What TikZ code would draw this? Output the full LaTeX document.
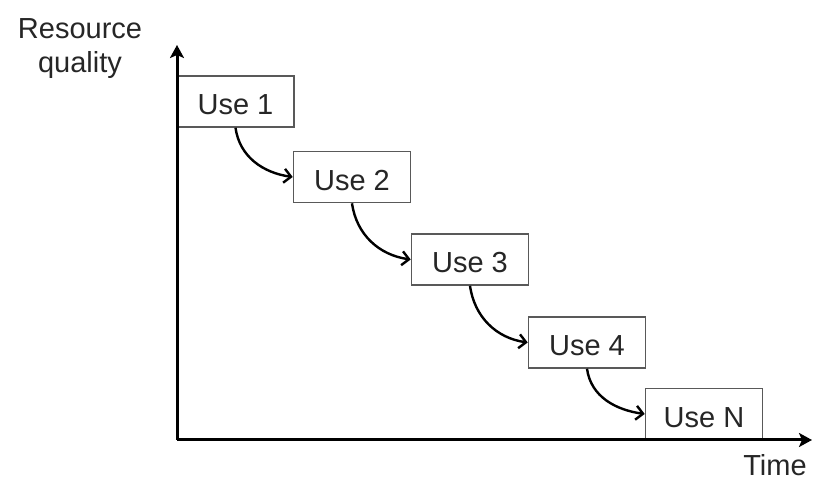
\documentclass[tikz,border=0pt]{standalone}
\usepackage{fontspec}
\setmainfont{Liberation Sans}
\usetikzlibrary{arrows.meta}
\begin{document}
\begin{tikzpicture}[x=1pt,y=1pt,
  usebox/.style={draw=black!65, line width=1.6pt, fill=white, minimum width=117pt, minimum height=51pt,
    inner sep=0pt, text height=27pt, text depth=0pt, font=\fontsize{29}{34}\selectfont, text=black!85},
  axis/.style={line width=3pt, -{Stealth[length=13pt,width=14pt,inset=3pt]}},
  flow/.style={line width=2.4pt, -{Straight Barb[length=7pt,width=14pt,line width=2.4pt]}, out=-82, in=172},
  lbl/.style={font=\fontsize{29}{34}\selectfont, text=black!85, inner sep=0pt, align=center}]
\useasboundingbox (0,0) rectangle (814,481);
\node[usebox] (b1) at (235.5,379.5) {Use 1};
\node[usebox] (b2) at (352,304) {Use 2};
\node[usebox] (b3) at (470,221.5) {Use 3};
\node[usebox] (b4) at (587,138.5) {Use 4};
\node[usebox] (bN) at (704,67) {Use N};
\coordinate (o) at (177,41);
\coordinate (ytip) at (177,436);
\coordinate (xtip) at (812,41);
\draw[axis] (o) -- (ytip);
\draw[axis] (o) -- (xtip);
\draw[flow] (b1.south) to (b2.west);
\draw[flow] (b2.south) to (b3.west);
\draw[flow] (b3.south) to (b4.west);
\draw[flow] (b4.south) to (bN.west);
\node[lbl] (rq) at (80,432) {Resource\\quality};
\node[lbl, anchor=base] (time) at (775,5) {Time};
\end{tikzpicture}
\end{document}
